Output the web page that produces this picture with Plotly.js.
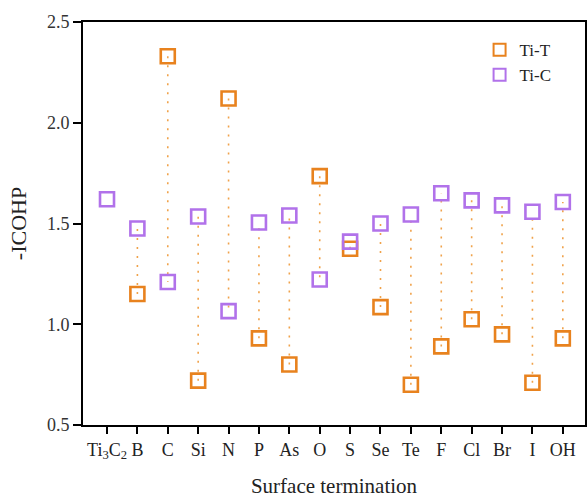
<!DOCTYPE html>
<html>
<head>
<meta charset="utf-8">
<script src="https://cdn.plot.ly/plotly-3.0.1.min.js"></script>
<style>html,body{margin:0;padding:0;background:#fff;}#chart{width:587px;height:499px;}</style>
</head>
<body>
<div id="chart"></div>
<script>
// Data
const categories = ["Ti<sub>3</sub>C<sub>2</sub>", "B", "C", "Si", "N", "P", "As", "O", "S", "Se", "Te", "F", "Cl", "Br", "I", "OH"];
const tiT = [null, 1.15, 2.33, 0.72, 2.12, 0.93, 0.80, 1.735, 1.375, 1.085, 0.70, 0.89, 1.025, 0.95, 0.71, 0.93];
const tiC = [1.62, 1.475, 1.21, 1.535, 1.065, 1.505, 1.54, 1.222, 1.41, 1.50, 1.545, 1.65, 1.615, 1.59, 1.558, 1.607];

const ORANGE = "#E8821E";
const PURPLE = "#B172EA";
const SERIF = "Liberation Serif";

// connector dotted lines built from the two series
const lx = [], ly = [];
categories.forEach((c, i) => {
  if (tiT[i] !== null && tiC[i] !== null) {
    lx.push(c, c, null);
    ly.push(tiT[i], tiC[i], null);
  }
});

const traces = [
  {x: lx, y: ly, type: "scatter", mode: "lines", showlegend: false, hoverinfo: "skip",
   line: {color: "#F0A24A", width: 1.6, dash: "2px,7px"}},
  {x: categories, y: tiT, type: "scatter", mode: "markers", name: "Ti-T",
   marker: {symbol: "square-open", size: 14, color: ORANGE, line: {width: 2.6, color: ORANGE}}},
  {x: categories, y: tiC, type: "scatter", mode: "markers", name: "Ti-C",
   marker: {symbol: "square-open", size: 14, color: PURPLE, line: {width: 2.6, color: PURPLE}}}
];

const layout = {
  width: 587, height: 499,
  margin: {l: 83, r: 2, t: 22, b: 74},
  paper_bgcolor: "#fff", plot_bgcolor: "#fff",
  font: {family: SERIF, color: "#222", size: 16},
  showlegend: true,
  legend: {x: 0.79, y: 0.975, xanchor: "left", yanchor: "top", bgcolor: "rgba(0,0,0,0)",
           font: {family: SERIF, size: 17, color: "#222"}, itemsizing: "constant", tracegroupgap: 0},
  xaxis: {
    type: "category", categoryorder: "array", categoryarray: categories,
    range: [-0.79, 15.73],
    showline: true, linecolor: "#000", linewidth: 2, mirror: true,
    ticks: "outside", ticklen: 7, tickwidth: 2, tickcolor: "#000",
    showgrid: false, zeroline: false,
    tickfont: {family: SERIF, size: 18, color: "#222"},
    title: {text: "Surface termination", font: {family: SERIF, size: 21, color: "#222"}, standoff: 17}
  },
  yaxis: {
    range: [0.5, 2.5], tickvals: [0.5, 1.0, 1.5, 2.0, 2.5], ticktext: ["0.5", "1.0", "1.5", "2.0", "2.5"],
    showline: true, linecolor: "#000", linewidth: 2, mirror: true,
    ticks: "outside", ticklen: 8, tickwidth: 2, tickcolor: "#000",
    showgrid: false, zeroline: false,
    tickfont: {family: SERIF, size: 18, color: "#333"},
    title: {text: "-ICOHP", font: {family: SERIF, size: 22, color: "#222"}, standoff: 14}
  }
};

Plotly.newPlot("chart", traces, layout, {displayModeBar: false, staticPlot: true});
</script>
</body>
</html>
